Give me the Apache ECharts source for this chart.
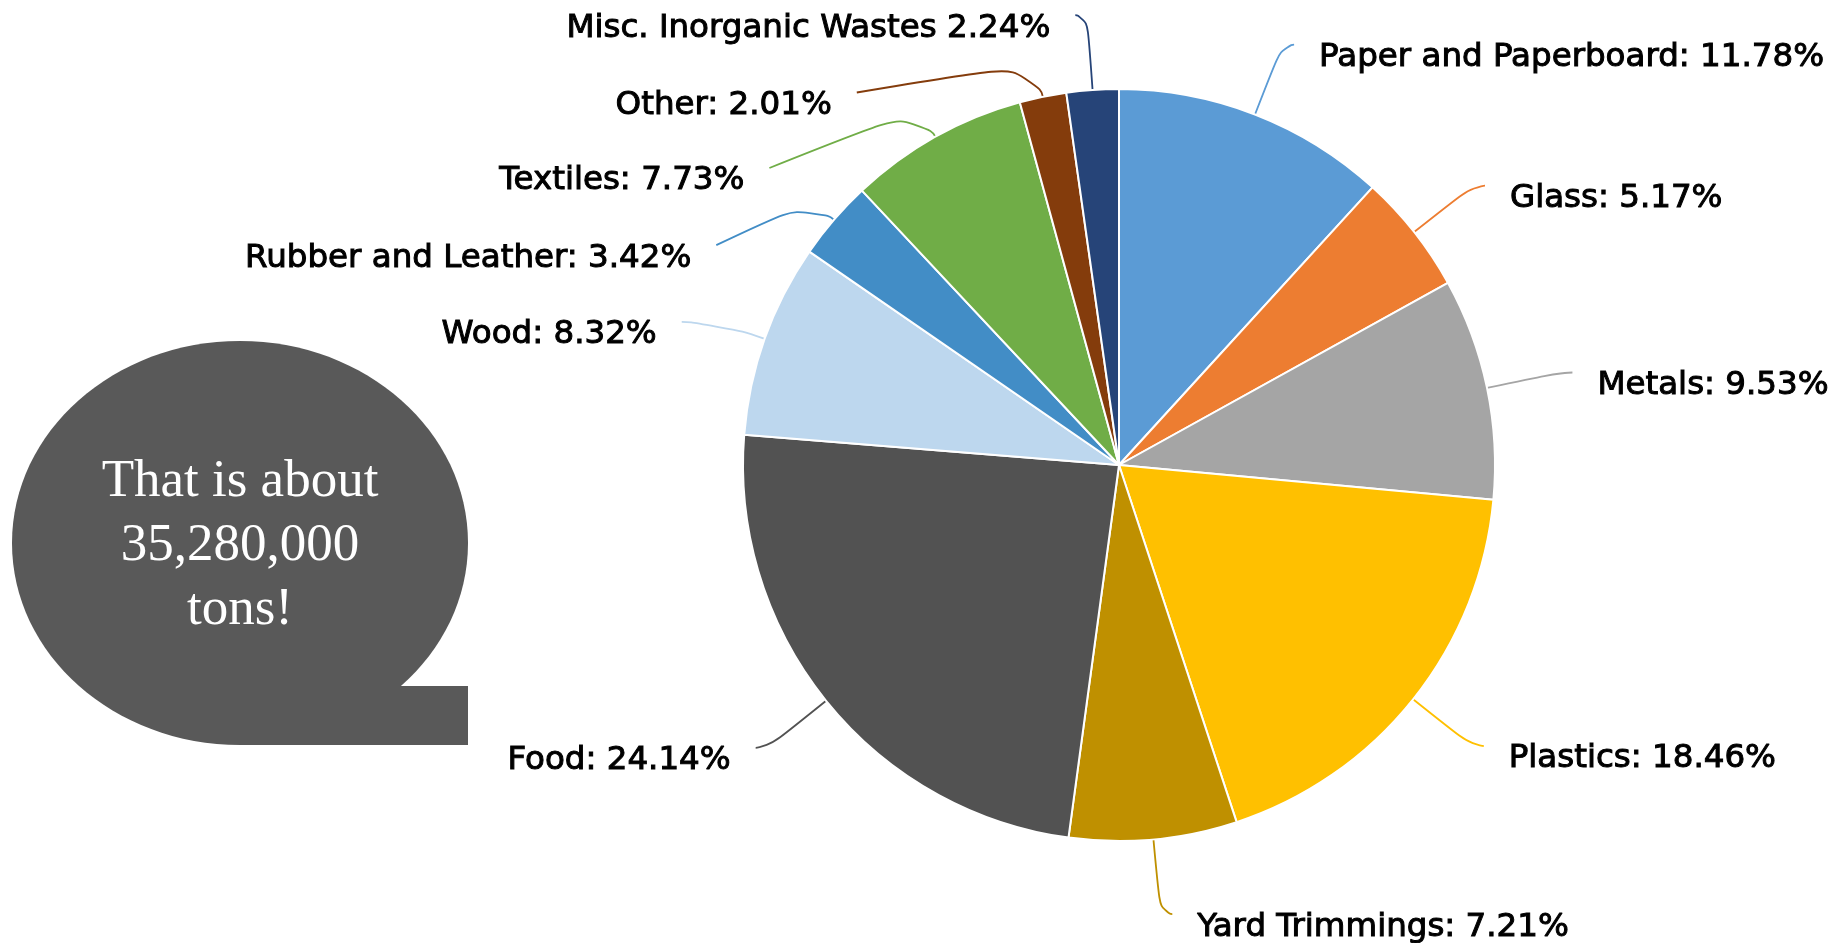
<!DOCTYPE html>
<html>
<head>
<meta charset="utf-8">
<script src="https://cdn.jsdelivr.net/npm/echarts@6/dist/echarts.min.js"></script>
<style>
  html, body { margin: 0; padding: 0; background: #ffffff; }
  #chart { width: 1833px; height: 943px; }
</style>
</head>
<body>
<div id="chart"></div>
<script>
// Municipal solid waste composition, share of total (%)
const categories = [
  'Paper and Paperboard', 'Glass', 'Metals', 'Plastics', 'Yard Trimmings',
  'Food', 'Wood', 'Rubber and Leather', 'Textiles', 'Other', 'Misc. Inorganic Wastes'
];
const shares = [11.78, 5.17, 9.53, 18.46, 7.21, 24.14, 8.32, 3.42, 7.73, 2.01, 2.24];
const sliceColors = [
  '#5B9BD5', '#ED7D31', '#A5A5A5', '#FFC000', '#BF9000',
  '#525252', '#BDD7EE', '#428DC6', '#70AD47', '#843C0C', '#264478'
];
const calloutLines = ['That is about', '35,280,000', 'tons!'];

// Categories whose label reads "name value" rather than "name: value"
const noColonLabels = ['Misc. Inorganic Wastes'];

// Label text sits a little below the end of its leader line
const LABEL_GAP = 25;
const LABEL_SINK = 13;

// Leader-line shapes for the crowded upper-left labels
const leaderTweaks = {
  'Wood': { length: 51, length2: 35 },
  'Rubber and Leather': { length: 30, length2: 95, drop: 45 },
  'Textiles': { length: 33, length2: 150, drop: 60 },
  'Other': { length: 35, length2: 179, drop: 30 }
};

const chart = echarts.init(document.getElementById('chart'), null, { renderer: 'canvas' });

const pieData = categories.map(function (name, i) {
  const item = { name: name, value: shares[i], itemStyle: { color: sliceColors[i] } };
  const t = leaderTweaks[name];
  if (t) item.labelLine = { length: t.length, length2: t.length2 };
  return item;
});

chart.setOption({
  backgroundColor: '#ffffff',
  animation: false,
  graphic: [
    {
      type: 'group',
      children: [
        { type: 'ellipse', shape: { cx: 240, cy: 543, rx: 228, ry: 202 }, style: { fill: '#595959' } },
        { type: 'rect', shape: { x: 240, y: 686, width: 228, height: 59 }, style: { fill: '#595959' } },
        {
          type: 'text',
          style: {
            text: calloutLines.join('\n'),
            x: 240, y: 546,
            align: 'center', verticalAlign: 'middle',
            fontFamily: '"Liberation Serif", "Times New Roman", serif',
            fontSize: 53, lineHeight: 64,
            fill: '#ffffff'
          }
        }
      ]
    }
  ],
  series: [
    {
      type: 'pie',
      center: [1119, 465],
      radius: 376,
      startAngle: 90,
      clockwise: true,
      avoidLabelOverlap: false,
      emphasis: { disabled: true },
      itemStyle: { borderColor: '#ffffff', borderWidth: 2 },
      label: {
        show: true,
        position: 'outside',
        color: '#000000',
        fontFamily: '"DejaVu Sans", sans-serif',
        fontSize: 32.5,
        textBorderColor: '#000000',
        textBorderWidth: 1,
        distanceToLabelLine: LABEL_GAP,
        formatter: function (p) {
          const sep = noColonLabels.indexOf(p.name) >= 0 ? ' ' : ': ';
          return p.name + sep + p.value.toFixed(2) + '%';
        }
      },
      labelLine: {
        show: true,
        length: 75,
        length2: 12,
        smooth: 0.8,
        lineStyle: { width: 1.8 }
      },
      labelLayout: function (p) {
        if (!p.labelLinePoints) return {};
        const t = leaderTweaks[categories[p.dataIndex]] || {};
        const pts = p.labelLinePoints.map(function (q) { return q.slice(); });
        const end = pts[pts.length - 1];
        end[1] += t.drop || 0;
        const toLeft = p.align === 'right';
        return {
          x: end[0] + (toLeft ? -LABEL_GAP : LABEL_GAP),
          y: end[1] + LABEL_SINK,
          labelLinePoints: pts
        };
      },
      data: pieData
    }
  ]
});
</script>
</body>
</html>
